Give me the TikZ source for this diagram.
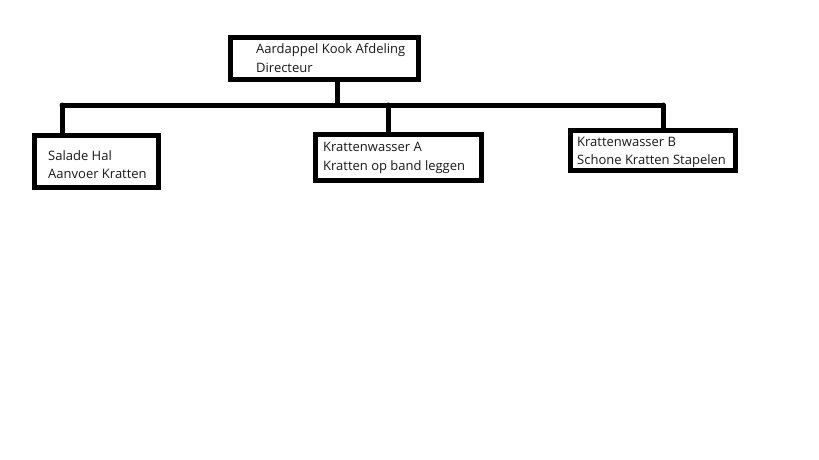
\documentclass[tikz,border=0pt]{standalone}
\usepackage{fontspec}
\setmainfont{Open Sans}
\tikzset{
  box/.style={draw=black, line width=5pt, rectangle, inner sep=0pt, fill=white},
  wire/.style={draw=black, line width=5pt, line cap=round},
  lbl/.style={anchor=base west, inner sep=0pt, font=\fontsize{13}{17}\selectfont, text=black!90}
}
\begin{document}
\begin{tikzpicture}[x=1pt,y=-1pt]
\useasboundingbox[fill=white] (0,0) rectangle (819,460);
% boxes (line centres)
\node[box, minimum width=188pt, minimum height=42pt] (top) at (324,58.5) {};
\node[box, minimum width=124pt, minimum height=52pt] (left) at (96,161) {};
\node[box, minimum width=166pt, minimum height=46pt] (mid) at (398,157) {};
\node[box, minimum width=165pt, minimum height=40pt] (right) at (652.5,150) {};
% bus
\coordinate (j) at (337,105);
\coordinate (b1) at (62,105);
\coordinate (b2) at (388,105);
\coordinate (b3) at (663,105);
\draw[wire] (b1) -- (b3);
\draw[wire] (j |- top.south) -- (j);
\draw[wire] (b1) -- (b1 |- left.north);
\draw[wire] (b2) -- (b2 |- mid.north);
\draw[wire] (b3) -- (b3 |- right.north);
% labels
\node[lbl] (t1a) at (256,53) {Aardappel Kook Afdeling};
\node[lbl] (t1b) at (256,72) {Directeur};
\node[lbl] (t2a) at (48,160) {Salade Hal};
\node[lbl] (t2b) at (48,178) {Aanvoer Kratten};
\node[lbl] (t3a) at (323,151) {Krattenwasser A};
\node[lbl] (t3b) at (323,170) {Kratten op band leggen};
\node[lbl] (t4a) at (577,146) {Krattenwasser B};
\node[lbl] (t4b) at (577,164) {Schone Kratten Stapelen};
\end{tikzpicture}
\end{document}
